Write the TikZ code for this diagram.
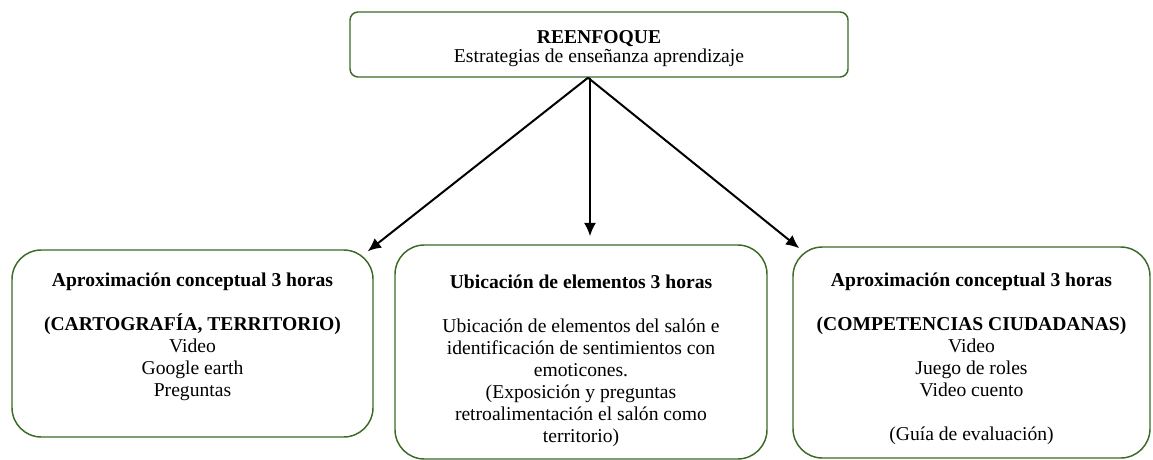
\documentclass[tikz,border=0pt]{standalone}
\usepackage{fontspec}
\setmainfont{Liberation Serif}
\usetikzlibrary{arrows.meta,positioning,calc}
\definecolor{boxgreen}{RGB}{58,108,38}

\begin{document}
\begin{tikzpicture}[x=0.75pt,y=-0.75pt,
    txt/.style={align=center, inner sep=0pt, font=\fontsize{14.7}{16.5}\selectfont},
    topbox/.style={draw=boxgreen, line width=1.1pt, rounded corners=6pt, inner sep=0pt},
    stagebox/.style={draw=boxgreen, line width=1.1pt, rounded corners=22pt, inner sep=0pt},
    arr/.style={line width=1.5pt, -{Latex[length=10pt,width=9pt]}}]
          \useasboundingbox (0,0) rectangle (1153,460);
          % boxes
          \draw node[topbox, minimum width=373.5pt, minimum height=48.75pt] (top) at (599,44.5) {};
          \draw node[stagebox, minimum width=270.75pt, minimum height=140.25pt] (left) at (192.5,343.5) {};
          \draw node[stagebox, minimum width=279pt, minimum height=160.5pt] (mid) at (581,352) {};
          \draw node[stagebox, minimum width=267.75pt, minimum height=158.25pt] (right) at (971.5,352.5) {};
          % texts
          \draw node[txt, font=\fontsize{14.7}{14}\selectfont, below=14.5pt of top.north] (toptxt)
            {\textbf{REENFOQUE}\\Estrategias de enseñanza aprendizaje};
          \draw node[txt, below=17.5pt of left.north] (lefttxt)
            {\textbf{Aproximación conceptual 3 horas}\\[16.5pt]
             \textbf{(CARTOGRAFÍA, TERRITORIO)}\\Video\\Google earth\\Preguntas};
          \draw node[txt, below=23pt of mid.north] (midtxt)
            {\textbf{Ubicación de elementos 3 horas}\\[16.5pt]
             Ubicación de elementos del salón e\\identificación de sentimientos con\\emoticones.\\
             (Exposición y preguntas\\retroalimentación el salón como\\territorio)};
          \draw node[txt, below=20pt of right.north] (righttxt)
            {\textbf{Aproximación conceptual 3 horas}\\[16.5pt]
             \textbf{(COMPETENCIAS CIUDADANAS)}\\Video\\Juego de roles\\Video cuento\\[16.5pt]
             (Guía de evaluación)};

        \draw[arr] ($(top.south)+(-11,0)$) -- ($(left.north east)+(-6,2)$);
        \draw[arr] ($(top.south)+(-9,0)$) -- ($(mid.north)+(9,-8)$);
        \draw[arr] ($(top.south)+(-11,0)$) -- ($(right.north west)+(7,2)$);
\end{tikzpicture}
\end{document}
